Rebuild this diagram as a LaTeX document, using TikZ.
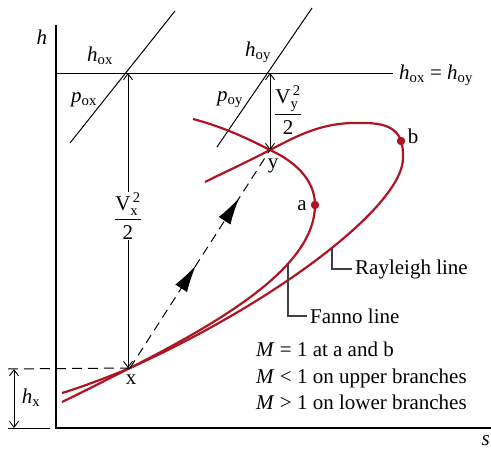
\documentclass[tikz,border=0pt]{standalone}
\usepackage{amsmath}
\usepackage{fontspec}
\setmainfont{Liberation Serif}
\usetikzlibrary{arrows.meta,decorations.markings}
\definecolor{flowred}{RGB}{175,20,35}
\tikzset{axis/.style={line width=1.3pt},
         guide/.style={line width=1pt},
         curve/.style={flowred, line width=2.2pt},
         dim/.style={line width=0.9pt, {Straight Barb[length=6pt,width=9pt]}-{Straight Barb[length=6pt,width=9pt]}},
         leader/.style={line width=1.1pt, black!75},
         lbl/.style={font=\fontsize{21}{26.5}\selectfont, inner sep=1pt},
         dot/.style={circle, fill=flowred, inner sep=0pt, minimum size=8.5pt}}

\begin{document}
\begin{tikzpicture}[x=1pt, y=-1pt]
                    \useasboundingbox (0,0) rectangle (491,450);

                    \coordinate (O) at (56,428);
                    \coordinate (top) at (56,25);
                    \coordinate (right) at (500,428);
                    \coordinate (ox) at (128,73);
                    \coordinate (oy) at (270,73);
                    \coordinate (hend) at (393,73);
                    \coordinate (x) at (130,368);
                    \coordinate (y) at (270,150);
                    \coordinate (hxtop) at (8,369);
                    \coordinate (hxbot) at (8,428);

                    % axes and stagnation line
                    \draw[axis] (top) -- (O) -- (right);
                    \draw[guide] (56,73) -- (hend);
                    \draw[guide] (70,143) -- (175,11);
                    \draw[guide] (217,147) -- (312,8);

                    % Rayleigh line
                    \draw[curve] (62,393) .. controls (85,386) and (108,377) .. (x)
                                 .. controls (280,300) and (403,205) .. (403,158)
                                 .. controls (404,128) and (388,122) .. (355,123)
                                 .. controls (320,123) and (295,137) .. (y)
                                 .. controls (245,163) and (225,172) .. (205,182);
                    % Fanno line
                    \draw[curve] (62,402) .. controls (85,391) and (108,379) .. (x)
                                 .. controls (228,318) and (315,265) .. (315,205)
                                 .. controls (315,178) and (292,160) .. (y)
                                 .. controls (245,137) and (220,126) .. (193,119);

                    \node[dot] (a) at (315,205) {};
                    \node[dot] (b) at (401,141) {};

                    % dimensions
                    \draw[guide, dash pattern=on 10pt off 6pt] (hxtop) -- (x);
                    \draw[guide] (hxbot) -- (50,428);
                    \draw[dim] (14,369) -- (14,428);
                    \draw[dim] (ox) -- (128,368);
                    \draw[dim] (oy) -- (y);

                    \draw[guide, dash pattern=on 9pt off 6pt, postaction={decorate},
                          decoration={markings,
                            mark=at position 0.47 with {\arrow[solid]{Latex[length=27pt,width=14pt]}},
                            mark=at position 0.78 with {\arrow[solid]{Latex[length=27pt,width=14pt]}}}]
                          (x) -- (y);

                    % leaders
                    \draw[leader] (332,247) -- (332,269) -- (352,269);
                    \draw[leader] (288,263) -- (288,316) -- (307,316);

                    % labels
                    \node[lbl] (hlab) at (42,37) {\textit{h}};
                    \node[lbl, anchor=east] (slab) at (491,441) {\textit{s}};
                    \node[lbl] (hoxlab) at (100,56) {\textit{h}\textsubscript{ox}};
                    \node[lbl] (poxlab) at (84,100) {\textit{p}\textsubscript{ox}};
                    \node[lbl] (hoylab) at (258,52) {\textit{h}\textsubscript{oy}};
                    \node[lbl] (poylab) at (230,100) {\textit{p}\textsubscript{oy}};
                    \node[lbl, anchor=west] (eqlab) at (398,75) {\textit{h}\textsubscript{ox} = \textit{h}\textsubscript{oy}};
                    \node[lbl, fill=white] (vxlab) at (128,216) {$\dfrac{\text{V}_{\text{x}}^{\,\text{2}}}{\text{2}}$};
                    \node[lbl, anchor=west] (vylab) at (273,110) {$\dfrac{\text{V}_{\text{y}}^{\,\text{2}}}{\text{2}}$};
                    \node[lbl] (ylab) at (273,166) {y};
                    \node[lbl] (xlab) at (131,380) {x};
                    \node[lbl] (alab) at (302,206) {a};
                    \node[lbl] (blab) at (413,136) {b};
                    \node[lbl] (hxlab) at (31,398) {\textit{h}\textsubscript{x}};
                    \node[lbl, anchor=west] (rlab) at (354,269) {Rayleigh line};
                    \node[lbl, anchor=west] (flab) at (309,316) {Fanno line};
                    \node[lbl, anchor=north west, align=left] (note) at (255,341)
                          {\textit{M} = 1 at a and b\\ \textit{M} < 1 on upper branches\\ \textit{M} > 1 on lower branches};

                 \end{tikzpicture}
\end{document}
